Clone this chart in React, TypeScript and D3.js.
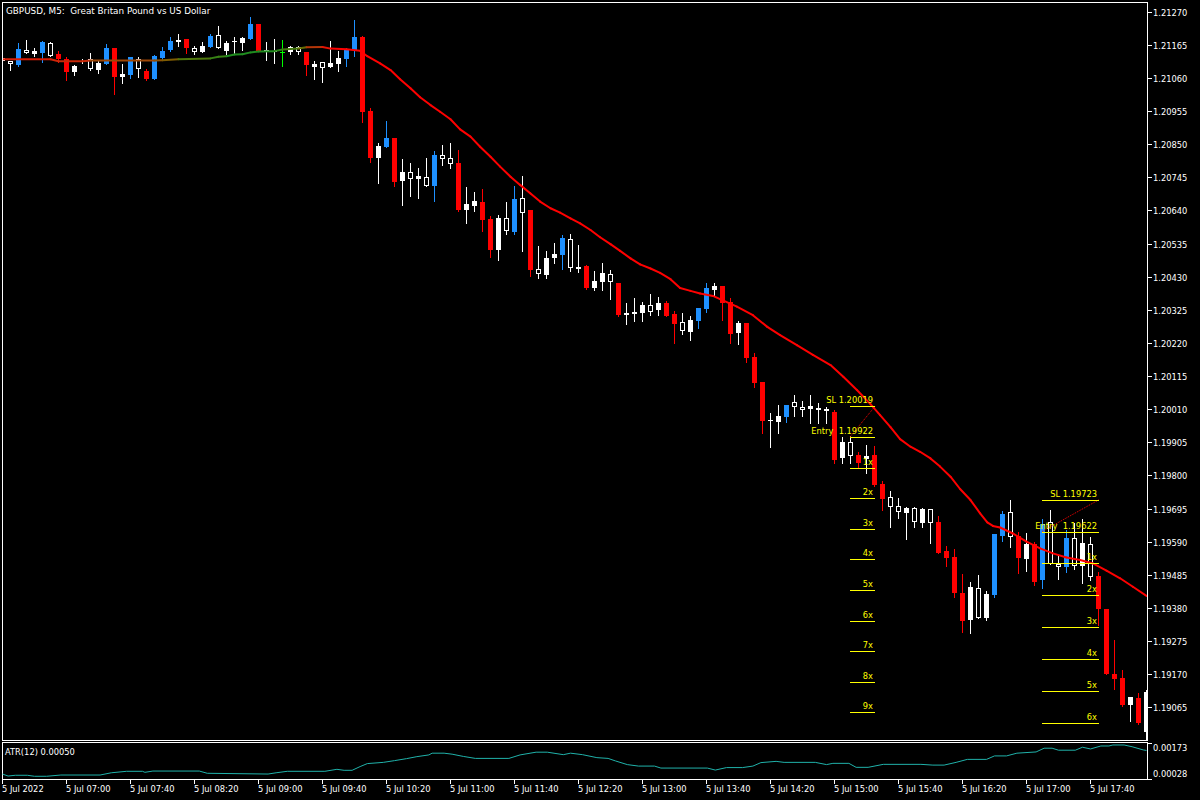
import * as d3 from 'd3'

const FONT = '"DejaVu Sans", Verdana, sans-serif'
const FS = 8.3

const title = 'GBPUSD, M5:  Great Britan Pound vs US Dollar'

// OHLC per M5 bar, first bar 5 Jul 06:20
const opens = [
  1.21123, 1.21103, 1.21101, 1.21138, 1.21145, 1.2114, 1.2113, 1.21137, 1.2112, 1.21098,
  1.21115, 1.21087, 1.21108, 1.21104, 1.21156, 1.21072, 1.21069, 1.21087, 1.21083, 1.21057,
  1.21124, 1.21149, 1.2118, 1.21183, 1.21143, 1.21161, 1.21159, 1.21154, 1.2117, 1.21176,
  1.21186, 1.21183, 1.2123, 1.2115, 1.21144, 1.21141, 1.21159, 1.21141, 1.21143, 1.21103,
  1.21092, 1.21108, 1.21122, 1.2112, 1.21149, 1.2119, 1.20955, 1.20844, 1.20842, 1.2087,
  1.20761, 1.20741, 1.20749, 1.20718, 1.20718, 1.20804, 1.20788, 1.20789, 1.2066, 1.2067,
  1.20667, 1.20613, 1.20615, 1.20576, 1.20572, 1.20633, 1.20641, 1.20437, 1.20489, 1.20502,
  1.20499, 1.20458, 1.20461, 1.20464, 1.20416, 1.20441, 1.20414, 1.2041, 1.20314, 1.20319,
  1.2034, 1.20317, 1.20347, 1.20346, 1.20312, 1.20258, 1.20293, 1.20289, 1.20327, 1.204,
  1.204, 1.20351, 1.20284, 1.20284, 1.20176, 1.20096, 1.19977, 1.19989, 1.19986, 1.20016,
  1.20006, 1.20021, 1.20006, 1.20003, 1.20002, 1.19907, 1.19862, 1.19865, 1.19861, 1.19865,
  1.19773, 1.19701, 1.19683, 1.19698, 1.19651, 1.19694, 1.19648, 1.19653, 1.1956, 1.19541,
  1.19428, 1.19447, 1.19347, 1.19424, 1.19421, 1.19609, 1.19606, 1.19608, 1.19582, 1.19582,
  1.19468, 1.19518, 1.19509, 1.19511, 1.19513, 1.19585, 1.19479, 1.19481, 1.19377, 1.1917,
  1.19157, 1.19097, 1.19093, 1.19114,
]
const highs = [
  1.2113, 1.21113, 1.21172, 1.2118, 1.21154, 1.21177, 1.21174, 1.21146, 1.21127, 1.21101,
  1.2112, 1.21138, 1.21114, 1.21167, 1.21156, 1.21104, 1.21127, 1.21125, 1.21087, 1.21133,
  1.21159, 1.21191, 1.21199, 1.21183, 1.21161, 1.21173, 1.21199, 1.21225, 1.21178, 1.21189,
  1.21189, 1.21254, 1.2123, 1.21173, 1.21183, 1.2118, 1.21162, 1.21162, 1.21143, 1.21114,
  1.21111, 1.21177, 1.21146, 1.21155, 1.21244, 1.21193, 1.20964, 1.20853, 1.20923, 1.2087,
  1.20803, 1.2079, 1.20774, 1.20806, 1.20828, 1.20847, 1.20853, 1.20832, 1.20714, 1.20698,
  1.20708, 1.20622, 1.20625, 1.20667, 1.20717, 1.20749, 1.20641, 1.20527, 1.20511, 1.20538,
  1.20561, 1.20565, 1.2053, 1.20467, 1.20448, 1.20472, 1.20451, 1.2041, 1.20346, 1.20361,
  1.20349, 1.20375, 1.20365, 1.20354, 1.20321, 1.20314, 1.20306, 1.20332, 1.20409, 1.20409,
  1.204, 1.20361, 1.20289, 1.20284, 1.20187, 1.20096, 1.19997, 1.20023, 1.20023, 1.20055,
  1.20036, 1.20055, 1.20029, 1.20016, 1.20007, 1.19923, 1.19926, 1.19875, 1.19896, 1.19893,
  1.19782, 1.1975, 1.19727, 1.197, 1.19701, 1.19698, 1.19694, 1.19671, 1.19576, 1.19568,
  1.19487, 1.19463, 1.19484, 1.19434, 1.19614, 1.19687, 1.19722, 1.19622, 1.19618, 1.1959,
  1.19661, 1.19692, 1.19548, 1.19627, 1.19648, 1.19661, 1.19606, 1.19493, 1.19377, 1.19278,
  1.19183, 1.19098, 1.19111, 1.1912,
]
const lows = [
  1.2111, 1.21085, 1.21099, 1.21138, 1.2113, 1.2111, 1.2113, 1.2111, 1.21053, 1.21069,
  1.21106, 1.21085, 1.21076, 1.21104, 1.21009, 1.21045, 1.21059, 1.21064, 1.21053, 1.21057,
  1.21119, 1.21145, 1.21162, 1.21138, 1.21136, 1.21143, 1.21157, 1.21154, 1.21136, 1.2114,
  1.21149, 1.21183, 1.21146, 1.21117, 1.21106, 1.21099, 1.21136, 1.21135, 1.21069, 1.21057,
  1.21048, 1.21094, 1.21083, 1.21099, 1.2113, 1.20921, 1.20794, 1.20728, 1.20842, 1.20718,
  1.20658, 1.20686, 1.20679, 1.20718, 1.2067, 1.20785, 1.20775, 1.20638, 1.20601, 1.20639,
  1.20576, 1.20493, 1.20484, 1.20566, 1.20566, 1.20512, 1.20432, 1.20427, 1.20427, 1.20472,
  1.20455, 1.20449, 1.20446, 1.2039, 1.20388, 1.20388, 1.20359, 1.20306, 1.2028, 1.20289,
  1.20289, 1.20308, 1.20308, 1.20306, 1.20221, 1.20248, 1.20229, 1.20266, 1.20317, 1.20372,
  1.20293, 1.20221, 1.20216, 1.2016, 1.20081, 1.19933, 1.19889, 1.19935, 1.1997, 1.19988,
  1.19989, 1.19967, 1.19967, 1.19967, 1.1984, 1.1984, 1.19838, 1.19828, 1.19807, 1.19766,
  1.1969, 1.19637, 1.19666, 1.19597, 1.19637, 1.19637, 1.19587, 1.19555, 1.19513, 1.19415,
  1.19304, 1.19301, 1.19347, 1.19341, 1.19415, 1.19593, 1.19574, 1.19492, 1.19498, 1.19452,
  1.19442, 1.19518, 1.19471, 1.19495, 1.19502, 1.1946, 1.19468, 1.19326, 1.1917, 1.19123,
  1.1907, 1.19022, 1.19012, 1.18961,
]
const closes = [
  1.21114, 1.21113, 1.21152, 1.21149, 1.21137, 1.21174, 1.21172, 1.2112, 1.2108, 1.2108,
  1.2111, 1.21119, 1.21085, 1.21156, 1.21062, 1.21064, 1.21125, 1.2112, 1.21057, 1.2113,
  1.21145, 1.21177, 1.21173, 1.21154, 1.21154, 1.21143, 1.21193, 1.21195, 1.21146, 1.21174,
  1.21172, 1.2123, 1.21146, 1.21147, 1.21142, 1.21141, 1.21141, 1.21159, 1.21101, 1.21096,
  1.2111, 1.21094, 1.21104, 1.21151, 1.2119, 1.20953, 1.20807, 1.20807, 1.2087, 1.20731,
  1.20733, 1.20761, 1.20741, 1.20747, 1.20815, 1.20815, 1.20805, 1.20641, 1.20641, 1.20655,
  1.20611, 1.20515, 1.20515, 1.20615, 1.20676, 1.20678, 1.20451, 1.20453, 1.20435, 1.2049,
  1.20553, 1.20548, 1.20455, 1.20395, 1.20395, 1.20412, 1.20438, 1.20308, 1.20308, 1.20311,
  1.20316, 1.2034, 1.20324, 1.20306, 1.2028, 1.20287, 1.20255, 1.20332, 1.20395, 1.20388,
  1.20347, 1.20248, 1.2025, 1.20173, 1.20092, 1.19973, 1.19973, 1.1997, 1.20023, 1.20032,
  1.20016, 1.2001, 1.20013, 1.20011, 1.19849, 1.19854, 1.19907, 1.19838, 1.19851, 1.1977,
  1.19726, 1.19731, 1.19703, 1.19682, 1.19698, 1.1965, 1.19694, 1.19555, 1.19539, 1.19428,
  1.19338, 1.19342, 1.19442, 1.19349, 1.19614, 1.19678, 1.19683, 1.19539, 1.19535, 1.19463,
  1.19646, 1.19651, 1.19518, 1.19601, 1.19601, 1.19514, 1.19582, 1.19376, 1.1917, 1.19155,
  1.19072, 1.19072, 1.19016, 1.18987,
]
// w = bear, h = bull, b = strong bull, r = strong bear, g = neutral
const kinds =
  'whbhwbhrrw' + 'whwbrwbhrb' + 'bbwrhwbhww' + 'wbrwwgwhrw' + 'hwwbbrrwbr' +
  'whwhbhhrww' + 'rrwhbhrhww' + 'bhwrwwhrww' + 'whwrrhwbbw' + 'rrwrrrwwbh' +
  'hwhhrwhrwr' + 'rhhwhwhrrr' + 'rwhwbbhrwr' + 'bhhbhwhrrr' + 'rwrw'

// moving average: [bar, price]
const maPoints: [number, number][] = [
  [0, 1.21119], [6, 1.21119], [7, 1.21113], [10, 1.21113], [11, 1.21115], [19, 1.21115],
  [20, 1.21116], [22, 1.21119], [26, 1.21122], [27, 1.21127], [28, 1.21129], [29, 1.21134],
  [30, 1.21135], [31, 1.21141], [32, 1.21144], [34, 1.21145], [35, 1.2115], [37, 1.21153],
  [38, 1.21157], [40, 1.21158], [41, 1.21153], [43, 1.21151], [44.7, 1.21146], [45.6, 1.21129],
  [47.2, 1.21106], [48.5, 1.21085], [49.7, 1.21056], [51, 1.21027], [52.2, 1.20999],
  [53.5, 1.20974], [54.7, 1.20953], [56, 1.20929], [57.2, 1.20897], [58.5, 1.20874],
  [59.7, 1.20842], [61, 1.2081], [62.2, 1.20779], [63.5, 1.20747], [64.7, 1.20721],
  [66, 1.20694], [67.2, 1.20668], [68.5, 1.20647], [69.7, 1.20633], [71, 1.20615],
  [72.2, 1.20599], [73.5, 1.20578], [74.7, 1.20555], [76, 1.20533], [77.2, 1.20512],
  [78.5, 1.20488], [79.7, 1.20469], [81, 1.20456], [82.2, 1.20442], [83.5, 1.20422],
  [84.7, 1.20394], [86, 1.20385], [87.2, 1.20377], [88.8, 1.20369], [89.7, 1.20359],
  [91.8, 1.20335], [93.8, 1.20308], [95.6, 1.20271], [97.2, 1.20245], [99.3, 1.20213],
  [101.3, 1.20182], [103.5, 1.2015], [105.1, 1.20113], [106.8, 1.20071], [108.5, 1.20026],
  [109.7, 1.19991], [111, 1.19953], [112.2, 1.19915], [113.5, 1.19891], [114.7, 1.19875],
  [116, 1.19854], [117.2, 1.19828], [118.5, 1.19796], [119.7, 1.19757], [121, 1.19722],
  [122.2, 1.1968], [123.1, 1.19651], [123.8, 1.1964], [124.7, 1.19635], [126.3, 1.19616],
  [128, 1.1959], [129.7, 1.19569], [131.3, 1.19553], [133, 1.1954], [134.7, 1.19532],
  [136.3, 1.19521], [138, 1.19498], [139.7, 1.19474], [141.3, 1.19447], [143, 1.19418],
]

// ATR(12): [bar, value]
const atrPoints: [number, number][] = [
  [0, 0.00048], [0.7, 0.0004], [1.6, 0.00043], [3.1, 0.00043], [4, 0.00039], [5.5, 0.00039],
  [7.3, 0.00044], [12.2, 0.00044], [13.6, 0.00053], [15.5, 0.00059], [17.5, 0.00059],
  [17.8, 0.00055], [18.8, 0.0006], [24.6, 0.0006], [25.6, 0.00051], [33.2, 0.00048],
  [34.2, 0.00053], [35.6, 0.00059], [40.3, 0.00059], [41.8, 0.00067], [42.7, 0.00063],
  [43.7, 0.00063], [44.7, 0.00078], [45.6, 0.0009], [47.6, 0.00095], [49, 0.00102],
  [50.5, 0.0011], [51.8, 0.00118], [53.3, 0.00125], [53.7, 0.00132], [55.2, 0.00132],
  [56.2, 0.00128], [57.6, 0.00119], [59.1, 0.00111], [63.3, 0.00111], [64.7, 0.00125],
  [66.7, 0.00136], [68.1, 0.00136], [70.1, 0.00126], [71, 0.00132], [72.5, 0.00126],
  [74.3, 0.00114], [75.7, 0.00111], [76.6, 0.00101], [78.1, 0.00086], [79.5, 0.0008],
  [81.5, 0.0008], [82.3, 0.00072], [88.1, 0.00072], [89.1, 0.00064], [90.5, 0.00074],
  [92.5, 0.00074], [93.8, 0.0008], [94.8, 0.00094], [96.7, 0.00099], [97.7, 0.00095],
  [101.6, 0.00095], [103, 0.00086], [103.8, 0.00091], [105.8, 0.00091], [106.7, 0.00075],
  [108.2, 0.00075], [110.1, 0.00087], [114.8, 0.00087], [116.3, 0.00084], [117.7, 0.00084],
  [119.2, 0.00095], [120.6, 0.00107], [123, 0.00107], [124, 0.00121], [125.5, 0.00121],
  [126.8, 0.00132], [129.2, 0.00137], [130.2, 0.00152], [131.2, 0.00152], [132, 0.00144],
  [134.1, 0.00144], [135, 0.00156], [136, 0.00149], [137.3, 0.00161], [138.3, 0.00161],
  [138.8, 0.00165], [140.2, 0.00165], [141.2, 0.00158], [142.6, 0.00145], [143, 0.00143],
]
const atrLabel = 'ATR(12) 0.00050'

const priceTicks = [
  1.2127, 1.21165, 1.2106, 1.20955, 1.2085, 1.20745, 1.2064, 1.20535, 1.2043, 1.20325, 1.2022,
  1.20115, 1.2001, 1.19905, 1.198, 1.19695, 1.1959, 1.19485, 1.1938, 1.19275, 1.1917, 1.19065,
]
const atrTicks = [0.00173, 0.00028]

// one label every 8 bars
const timeLabels = [
  '5 Jul 2022', '5 Jul 07:00', '5 Jul 07:40', '5 Jul 08:20', '5 Jul 09:00', '5 Jul 09:40',
  '5 Jul 10:20', '5 Jul 11:00', '5 Jul 11:40', '5 Jul 12:20', '5 Jul 13:00', '5 Jul 13:40',
  '5 Jul 14:20', '5 Jul 15:00', '5 Jul 15:40', '5 Jul 16:20', '5 Jul 17:00', '5 Jul 17:40',
]

// trade setups: stop, entry, and R-multiple targets below the entry
const setupFrom = [106, 130]
const setupTo = [109, 137]
const setupSL = [1.20019, 1.19723]
const setupEntry = [1.19922, 1.19622]
const setupLevels = [9, 6]

const kindColor: Record<string, string> = {
  w: '#ffffff', h: '#ffffff', b: '#1e90ff', r: '#ff0000', g: '#00ff00',
}

export default function App() {
  const x = d3.scaleLinear().domain([0, 143]).range([2, 1146])
  const y = d3.scaleLinear().domain([1.2127, 1.19065]).range([11.7, 707.3])
  const yAtr = d3.scaleLinear().domain([0.00028, 0.00173]).range([779, 743])
  const px = (k: number) => x(k) + 0.5
  const snap = (v: number) => Math.round(v) + 0.5

  const maColor = d3.scaleLinear<string>()
    .domain([-1.5, 0, 1, 2.5])
    .range(['#ff0000', '#c0300a', '#6a6a00', '#1f8c1f'])
    .interpolate(d3.interpolateRgb)
    .clamp(true)

  const maLine = d3.line<[number, number]>().x(d => px(d[0])).y(d => y(d[1]))
  const maSegs = maPoints.slice(1).map((p, i) => {
    const a = maPoints[Math.max(0, i - 2)]
    const b = maPoints[Math.min(maPoints.length - 1, i + 3)]
    const slope = ((b[1] - a[1]) / (b[0] - a[0])) * 1e5
    return { d: maLine([maPoints[i], p]) as string, color: maColor(slope) }
  })

  const atrLine = d3.line<[number, number]>().x(d => px(d[0])).y(d => yAtr(d[1]))

  const text = { fontFamily: FONT, fontSize: FS, fill: '#ffffff' }

  return (
    <div style={{ position: 'absolute', left: 0, top: 0 }}>
      <svg width={1200} height={800} style={{ display: 'block', background: '#000' }}>
        <rect width={1200} height={800} fill="#000" />
        <defs>
          <clipPath id="main">
            <rect x={3} y={3} width={1144} height={737} />
          </clipPath>
        </defs>

        <g clipPath="url(#main)">
          {/* candles */}
          {opens.map((o, k) => {
            const c = closes[k]
            const kind = kinds[k]
            const col = kindColor[kind]
            const top = Math.round(y(Math.max(o, c)))
            const bot = Math.round(y(Math.min(o, c)))
            const h = Math.max(1, bot - top)
            const cx = x(k)
            return (
              <g key={k}>
                <line x1={cx + 0.5} x2={cx + 0.5} y1={Math.round(y(highs[k]))} y2={Math.round(y(lows[k])) + 1}
                  stroke={col} strokeWidth={1} />
                {kind === 'h' && h > 2 ? (
                  <rect x={cx - 1.5} y={top + 0.5} width={4} height={h - 1} fill="#000" stroke={col} strokeWidth={1} />
                ) : (
                  <rect x={cx - 2} y={top} width={5} height={h} fill={col} />
                )}
              </g>
            )
          })}

          {/* moving average */}
          {maSegs.map((s, i) => (
            <path key={i} d={s.d} fill="none" stroke={s.color} strokeWidth={2} strokeLinecap="round" />
          ))}

          {/* setups */}
          {setupFrom.map((f, i) => {
            const t = setupTo[i]
            const step = setupSL[i] - setupEntry[i]
            const levels = [
              { p: setupSL[i], label: `SL ${setupSL[i].toFixed(5)}` },
              { p: setupEntry[i], label: `Entry  ${setupEntry[i].toFixed(5)}` },
              ...d3.range(1, setupLevels[i] + 1).map(n => ({ p: setupEntry[i] - n * step, label: `${n}x` })),
            ]
            return (
              <g key={i}>
                <line x1={x(f)} y1={y(setupEntry[i])} x2={x(t) + 1} y2={y(setupSL[i])}
                  stroke="#ff0000" strokeWidth={1} strokeDasharray="1,1" />
                {levels.map((l, j) => (
                  <g key={j}>
                    <line x1={x(f)} x2={x(t) + 1} y1={snap(y(l.p))} y2={snap(y(l.p))} stroke="#ffff00" strokeWidth={1} />
                    <text x={x(t) - 1} y={Math.round(y(l.p)) - 3} textAnchor="end"
                      style={{ whiteSpace: 'pre' }} fontFamily={FONT} fontSize={FS} fill="#ffff00">{l.label}</text>
                  </g>
                ))}
              </g>
            )
          })}
        </g>

        {/* frames */}
        <rect x={2.5} y={2.5} width={1145} height={738} fill="none" stroke="#fff" strokeWidth={1} />
        <rect x={2.5} y={742.5} width={1145} height={37} fill="none" stroke="#fff" strokeWidth={1} />

        <text x={6} y={14} {...text} fontSize={8.8} style={{ whiteSpace: 'pre' }}>{title}</text>

        {/* price axis */}
        {priceTicks.map(t => (
          <g key={t}>
            <line x1={1147} x2={1152} y1={snap(y(t))} y2={snap(y(t))} stroke="#fff" />
            <text x={1153} y={Math.round(y(t)) + 3.5} {...text}>{t.toFixed(5)}</text>
          </g>
        ))}

        {/* ATR pane */}
        <path d={atrLine(atrPoints) as string} fill="none" stroke="#20b2aa" strokeWidth={1} />
        <text x={5} y={755} {...text}>{atrLabel}</text>
        {atrTicks.map((t, i) => (
          <g key={t}>
            <line x1={1147} x2={1152} y1={snap(yAtr(t))} y2={snap(yAtr(t))} stroke="#fff" />
            <text x={1153} y={Math.round(yAtr(t)) + (i === 0 ? 8 : -2)} {...text}>{t.toFixed(5)}</text>
          </g>
        ))}

        {/* time axis */}
        {timeLabels.map((l, i) => (
          <g key={l}>
            <line x1={px(i * 8)} x2={px(i * 8)} y1={780} y2={784} stroke="#fff" />
            <text x={x(i * 8)} y={792} {...text}>{l}</text>
          </g>
        ))}
      </svg>
    </div>
  )
}
